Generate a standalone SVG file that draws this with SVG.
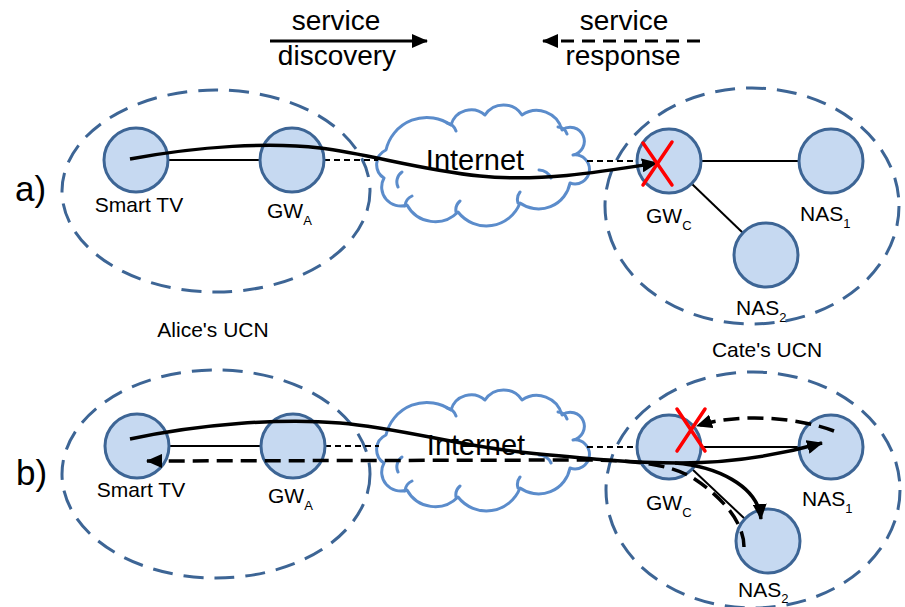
<svg xmlns="http://www.w3.org/2000/svg" xmlns:xlink="http://www.w3.org/1999/xlink" width="905" height="607" viewBox="0 0 905 607">
  <style>
    text { font-family: "Liberation Sans", Arial, sans-serif; fill: #000; }
    .ucn { fill: none; stroke: #3d6595; stroke-width: 3; stroke-dasharray: 20 11; }
    .node { fill: #c6d9f1; stroke: #3d6595; stroke-width: 3; }
    .cloud { fill: #fff; stroke: #5b8ccb; stroke-width: 3; stroke-linejoin: round; }
    .cloud-in { fill: none; stroke: #5b8ccb; stroke-width: 3; stroke-linecap: round; }
    .link { fill: none; stroke: #000; stroke-width: 2; }
    .wan { fill: none; stroke: #000; stroke-width: 2; stroke-dasharray: 6 4; }
    .disc { fill: none; stroke: #000; stroke-width: 3.5; marker-end: url(#ah); }
    .resp { fill: none; stroke: #000; stroke-width: 3.5; stroke-dasharray: 16 8; marker-end: url(#ah); }
    .fail { stroke: #ff0000; stroke-width: 3.5; stroke-linecap: round; }
    .lbl { font-size: 21px; }
    .sub { font-size: 13px; }
    .big { font-size: 28px; }
  </style>
  <defs>
    <marker id="ah" viewBox="0 0 16 14" refX="15" refY="7" markerWidth="16" markerHeight="14" markerUnits="userSpaceOnUse" orient="auto">
      <path d="M0,0 L16,7 L0,14 Z" fill="#000"/>
    </marker>
    <g id="cloud">
      <path class="cloud" d="M386,150 A42,42 0 0 1 451,125 A21,21 0 0 1 485,115 A22,22 0 0 1 522,115 A26,26 0 0 1 562,130 A14,14 0 1 1 573,155 A14.5,14.5 0 1 1 570,183 A32,32 0 0 1 520,203 A36,36 0 0 1 458,212 A32,32 0 0 1 407,205 A19,19 0 0 1 384,178 A16,16 0 0 1 386,150 Z"/>
      <path class="cloud-in" d="M398,187 A12,12 0 0 1 402,172 M447,123 A12,12 0 0 1 456,131 M558,127 A10,10 0 0 1 567,134 M539,170 A14,14 0 0 1 551,178 M518,203 A12,12 0 0 1 520,192 M456,212 A12,12 0 0 1 460,201 M405,206 A12,12 0 0 1 412,196"/>
    </g>
  </defs>

  <rect width="905" height="607" fill="#fff"/>

  <!-- legend -->
  <g id="legend">
    <text class="big" x="336" y="30" text-anchor="middle">service</text>
    <text class="big" x="337" y="65" text-anchor="middle">discovery</text>
    <text class="big" x="624" y="30" text-anchor="middle">service</text>
    <text class="big" x="623" y="65" text-anchor="middle">response</text>
    <path d="M270,41 L427,41" fill="none" stroke="#000" stroke-width="3" marker-end="url(#ah)"/>
    <path d="M700,41 L543,41" fill="none" stroke="#000" stroke-width="3" stroke-dasharray="13 8" marker-end="url(#ah)"/>
  </g>

  <!-- panel labels -->
  <text x="15" y="201" font-size="35">a)</text>
  <text x="16" y="485" font-size="35">b)</text>

  <!-- user-centric networks -->
  <g id="alice-ucn-a"><ellipse class="ucn" cx="216" cy="191" rx="154" ry="101"/></g>
  <g id="cate-ucn-a"><ellipse class="ucn" cx="752" cy="206" rx="147" ry="118"/></g>
  <g id="alice-ucn-b"><ellipse class="ucn" cx="216" cy="474" rx="154" ry="104"/></g>
  <g id="cate-ucn-b"><ellipse class="ucn" cx="753" cy="490" rx="147" ry="118"/></g>
  <text class="lbl" x="213" y="337" text-anchor="middle">Alice's UCN</text>
  <text class="lbl" x="767" y="357" text-anchor="middle">Cate's UCN</text>

  <!-- internet clouds -->
  <g id="internet-a">
    <use xlink:href="#cloud"/>
    <text x="475" y="170" font-size="29" text-anchor="middle">Internet</text>
  </g>
  <g id="internet-b">
    <use xlink:href="#cloud" transform="translate(0,285)"/>
    <text x="476" y="455" font-size="29" text-anchor="middle">Internet</text>
  </g>

  <!-- links -->
  <g id="links">
    <path class="link" d="M168,160 L260,160"/>
    <path class="wan" d="M324,160 L378,160"/>
    <path class="wan" d="M587,161 L636,161"/>
    <path class="link" d="M701,161 L799,161"/>
    <path class="link" d="M692,184 L743,233"/>
    <path class="link" d="M169,446 L261,446"/>
    <path class="wan" d="M325,446 L379,446"/>
    <path class="wan" d="M587,447 L637,447"/>
    <path class="link" d="M701,447 L800,447"/>
    <path class="link" d="M692,469 L745,519"/>
  </g>

  <!-- panel a nodes -->
  <g id="smarttv-a">
    <circle class="node" cx="136" cy="160" r="32"/>
    <text class="lbl" x="139" y="212" text-anchor="middle">Smart TV</text>
  </g>
  <g id="gwa-a">
    <circle class="node" cx="292" cy="160" r="32"/>
    <text class="lbl" x="267" y="218">GW<tspan class="sub" dy="7">A</tspan></text>
  </g>
  <g id="gwc-a">
    <circle class="node" cx="669" cy="161" r="32"/>
    <text class="lbl" x="646" y="223">GW<tspan class="sub" dy="7">C</tspan></text>
  </g>
  <g id="nas1-a">
    <circle class="node" cx="831" cy="161" r="32"/>
    <text class="lbl" x="800" y="221">NAS<tspan class="sub" dy="7">1</tspan></text>
  </g>
  <g id="nas2-a">
    <circle class="node" cx="766" cy="255" r="32"/>
    <text class="lbl" x="736" y="315">NAS<tspan class="sub" dy="7">2</tspan></text>
  </g>

  <!-- panel b nodes -->
  <g id="smarttv-b">
    <circle class="node" cx="137" cy="446" r="32"/>
    <text class="lbl" x="141" y="497" text-anchor="middle">Smart TV</text>
  </g>
  <g id="gwa-b">
    <circle class="node" cx="293" cy="446" r="32"/>
    <text class="lbl" x="268" y="503">GW<tspan class="sub" dy="7">A</tspan></text>
  </g>
  <g id="gwc-b">
    <circle class="node" cx="669" cy="447" r="32"/>
    <text class="lbl" x="646" y="510">GW<tspan class="sub" dy="7">C</tspan></text>
  </g>
  <g id="nas1-b">
    <circle class="node" cx="831" cy="447" r="32"/>
    <text class="lbl" x="802" y="506">NAS<tspan class="sub" dy="7">1</tspan></text>
  </g>
  <g id="nas2-b">
    <circle class="node" cx="768" cy="541" r="32"/>
    <text class="lbl" x="738" y="597">NAS<tspan class="sub" dy="6">2</tspan></text>
  </g>

  <!-- service flows -->
  <g id="flows">
    <path class="disc" d="M130,159 C200,146 270,142 320,148 C370,154 420,170 480,176 C540,182 600,172 657,163"/>
    <path class="disc" d="M130,439 C200,424 280,418 340,423 C400,428 460,446 520,452 C580,458 630,463 680,463 C740,463 790,452 822,443"/>
    <path class="disc" d="M675,463 C715,466 758,485 761,519"/>
    <path class="resp" d="M744,547 C744,522 722,497 693,478 C668,463 630,460 580,460 L147,461"/>
    <path class="resp" d="M834,431 C800,418 740,412 697,426"/>
  </g>

  <!-- failed gateway marks -->
  <g id="fail-a">
    <line class="fail" x1="643" y1="143" x2="672" y2="185"/>
    <line class="fail" x1="672" y1="142" x2="643" y2="185"/>
  </g>
  <g id="fail-b">
    <line class="fail" x1="677" y1="409" x2="705" y2="451"/>
    <line class="fail" x1="705" y1="409" x2="677" y2="451"/>
  </g>
</svg>
